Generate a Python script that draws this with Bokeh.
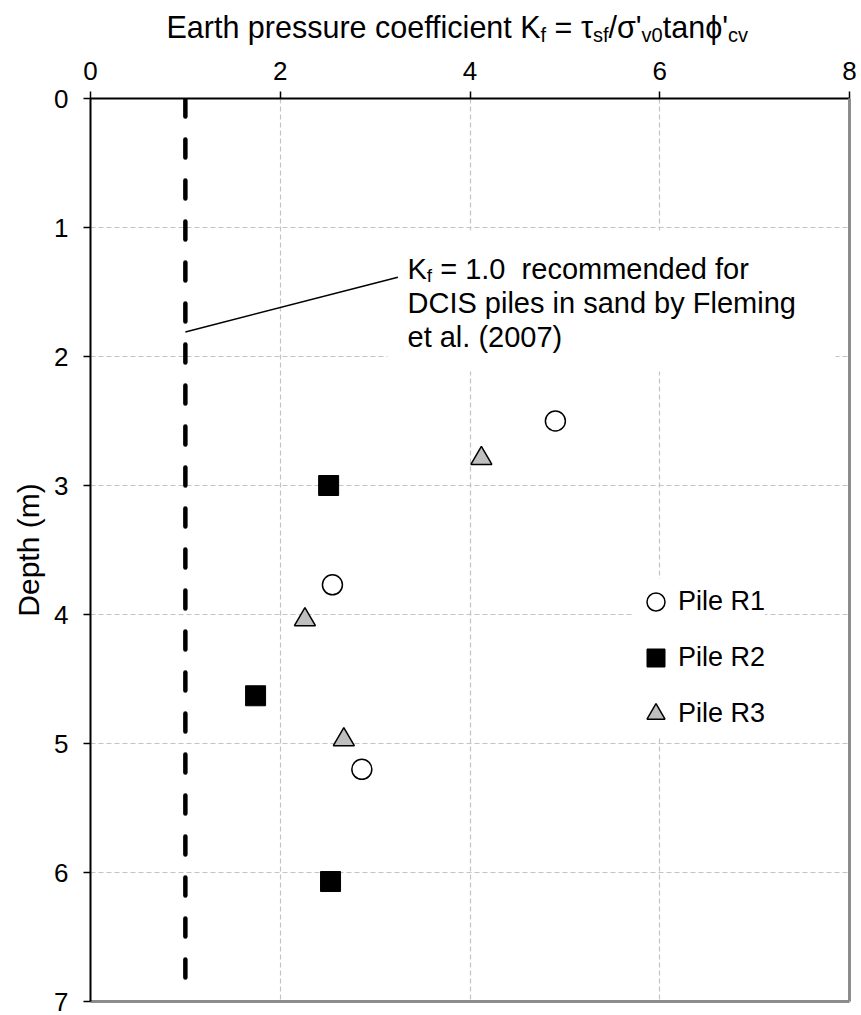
import glob
from bokeh.plotting import figure
from bokeh.layouts import column
from bokeh.models import (Range1d, FixedTicker, LinearAxis, Label, Legend,
                          LegendItem, BoxAnnotation)
from bokeh.embed import file_html
from bokeh.resources import INLINE

# ---------------- data ----------------
r1_kf = [4.90, 2.55, 2.86]
r1_depth = [2.50, 3.77, 5.20]
r2_kf = [2.51, 1.74, 2.53]
r2_depth = [3.00, 4.63, 6.07]
r3_kf = [4.12, 2.26, 2.67]
r3_depth = [2.79, 4.04, 4.97]
series_names = ["Pile R1", "Pile R2", "Pile R3"]

kf_recommended = [1.0, 1.0]
kf_line_depth = [0.0, 6.9]
leader_kf = [1.0, 3.24]
leader_depth = [1.81, 1.385]

x_ticks = [0, 2, 4, 6, 8]
y_ticks = [0, 1, 2, 3, 4, 5, 6, 7]

# ---------------- text measuring ----------------
FONT = "Liberation Sans"
_font_path = None
for pat in ["/usr/share/fonts/**/LiberationSans-Regular.ttf",
            "/usr/**/LiberationSans-Regular.ttf"]:
    found = glob.glob(pat, recursive=True)
    if found:
        _font_path = found[0]
        break
_pil_font = None
try:
    from PIL import ImageFont
    if _font_path:
        _pil_font = ImageFont.truetype(_font_path, 100)
except Exception:
    _pil_font = None


def text_width(txt, size):
    if _pil_font is not None:
        return _pil_font.getlength(txt) * size / 100.0
    return 0.55 * size * len(txt)


# ---------------- layout constants (page pixels) ----------------
W, H_PAGE = 861, 1015
TH = 47                      # height of the title strip
L, R, T, B = 90, 12, 98, 14  # frame borders on the page
FRAME_BOTTOM = H_PAGE - B
DY = 10                      # empirical screen-unit correction

# ---------------- title strip ----------------
tf = figure(width=W, height=TH, x_range=Range1d(0, W), y_range=Range1d(0, TH),
            x_axis_type=None, y_axis_type=None, output_backend="svg",
            toolbar_location=None, min_border=0)
tf.outline_line_color = None
tf.xgrid.visible = False
tf.ygrid.visible = False

# ---------------- main figure ----------------
p = figure(width=W, height=H_PAGE - TH, x_range=Range1d(0, 8),
           y_range=Range1d(7, 0), x_axis_location="above",
           output_backend="svg", toolbar_location=None,
           min_border_left=L, min_border_right=R, min_border_top=T - TH,
           min_border_bottom=B)
p.outline_line_color = None
p.background_fill_color = "white"
p.border_fill_color = "white"

xa = p.xaxis[0]
ya = p.yaxis[0]
xa.ticker = FixedTicker(ticks=x_ticks)
ya.ticker = FixedTicker(ticks=y_ticks)
for ax in (xa, ya):
    ax.major_tick_out = 7
    ax.major_tick_in = 0
    ax.minor_tick_out = 0
    ax.minor_tick_in = 0
    ax.axis_line_width = 2
    ax.axis_line_color = "black"
    ax.major_tick_line_color = "black"
    ax.major_tick_line_width = 1.5
    ax.major_label_text_font = FONT
    ax.major_label_text_font_size = "26px"
    ax.major_label_text_color = "black"
xa.major_label_standoff = 12
ya.major_label_standoff = 15
ya.axis_label = "Depth (m)"
ya.axis_label_text_font = FONT
ya.axis_label_text_font_size = "30px"
ya.axis_label_text_font_style = "normal"
ya.axis_label_text_color = "black"
ya.axis_label_standoff = 6

for loc in ("right", "below"):
    ax = LinearAxis(ticker=FixedTicker(ticks=[]), axis_line_color="#8c8c8c",
                    axis_line_width=3, major_tick_out=0, major_tick_in=0,
                    minor_tick_out=0, minor_tick_in=0,
                    major_label_text_font_size="0px")
    p.add_layout(ax, loc)

p.xgrid.ticker = FixedTicker(ticks=x_ticks)
p.ygrid.ticker = FixedTicker(ticks=y_ticks)
for g in (p.xgrid, p.ygrid):
    g.grid_line_color = "#c4c4c4"
    g.grid_line_dash = "5 3"
    g.grid_line_width = 1.2


def sy_main(y_page):
    return FRAME_BOTTOM - y_page + DY


def sy_title(y_page):
    return TH - y_page + DY


# white box behind the annotation text (covers gridlines)
box = BoxAnnotation(left=387 - L, right=835 - L,
                    top=sy_main(240), bottom=sy_main(381),
                    left_units="screen", right_units="screen",
                    top_units="screen", bottom_units="screen",
                    fill_color="white", fill_alpha=1.0, line_color=None,
                    level="underlay")
p.add_layout(box)

# recommended Kf line and leader
p.line(x=kf_recommended, y=kf_line_depth, line_color="black", line_width=4.5,
       line_dash="18 23", line_cap="round")
p.line(x=leader_kf, y=leader_depth, line_color="black", line_width=1.5)

# data points
c1 = p.scatter(r1_kf, r1_depth, marker="circle", size=20, fill_color="white",
               line_color="black", line_width=1.5)
c2 = p.scatter(r2_kf, r2_depth, marker="square", size=20, fill_color="black",
               line_color="black", line_width=1)
c3 = p.scatter(r3_kf, r3_depth, marker="triangle", size=21,
               fill_color="#bfbfbf", line_color="black", line_width=1.5)

legend = Legend(items=[LegendItem(label=n, renderers=[r])
                       for n, r in zip(series_names, [c1, c2, c3])],
                location=(543, 265), glyph_width=45, glyph_height=45,
                label_standoff=0, spacing=11, padding=10, margin=0,
                label_text_font=FONT, label_text_font_size="27px",
                label_text_color="black",
                border_line_color=None, background_fill_color="white",
                background_fill_alpha=1.0)
p.add_layout(legend)


# ---------------- rich text runs (subscripts) ----------------
def add_run(fig, sy_func, pieces, x_page, base_page):
    x = x_page
    for txt, size, dy in pieces:
        stripped = txt.lstrip(" ")
        x += text_width(txt[:len(txt) - len(stripped)], size)
        fig.add_layout(Label(x=x - L, y=sy_func(base_page + dy),
                             x_units="screen", y_units="screen", text=stripped,
                             text_font=FONT, text_font_size=f"{size}px",
                             text_baseline="alphabetic", text_align="left",
                             text_color="black"))
        x += text_width(stripped, size)


TS, SS = 30.5, 20
add_run(tf, sy_title,
        [("Earth pressure coefficient K", TS, 0), ("f", SS, 8),
         (" = \u03c4", TS, 0), ("sf", SS, 8), ("/\u03c3'", TS, 0),
         ("v0", SS, 8), ("tan\u03d5'", TS, 0), ("cv", SS, 8)], 166, 36.7)

AS, ASS = 29, 19
add_run(p, sy_main, [("K", AS, 0), ("f", ASS, 7),
                     (" = 1.0\u00a0 recommended for", AS, 0)], 407, 278)
add_run(p, sy_main, [("DCIS piles in sand by Fleming", AS, 0)], 407, 312)
add_run(p, sy_main, [("et al. (2007)", AS, 0)], 407, 346)

layout = column(tf, p, spacing=0)
open("out.html", "w").write(file_html(layout, INLINE))
